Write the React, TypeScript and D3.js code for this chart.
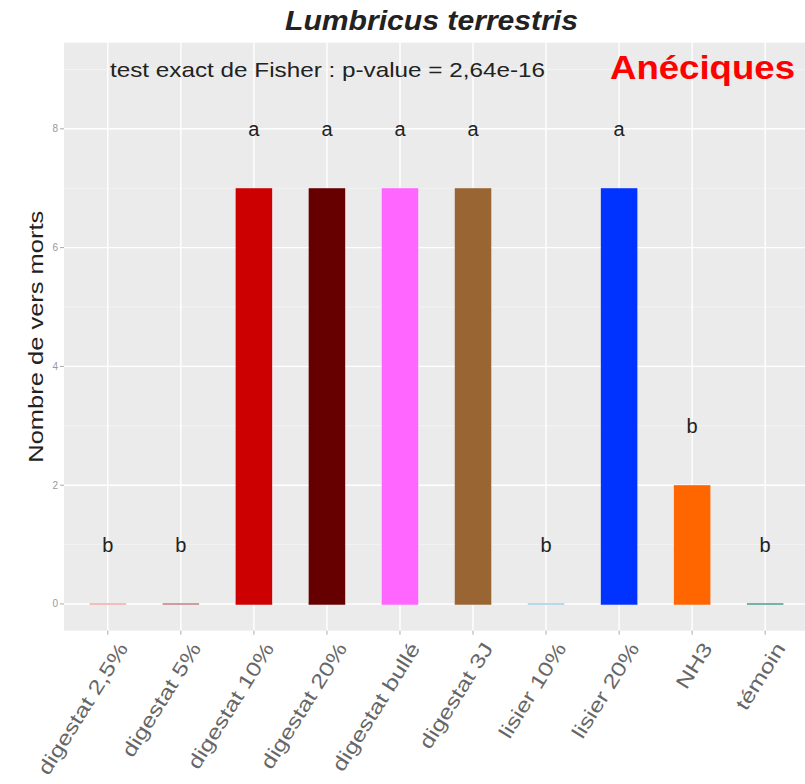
import React from "react";
import * as d3 from "d3";

const categories = ["digestat 2,5%", "digestat 5%", "digestat 10%", "digestat 20%", "digestat bullé", "digestat 3J", "lisier 10%", "lisier 20%", "NH3", "témoin"];
const values = [0, 0, 7, 7, 7, 7, 0, 7, 2, 0];
const letters = ["b", "b", "a", "a", "a", "a", "b", "a", "b", "b"];
const colors = ["#F2A8A8", "#C07C80", "#CC0000", "#660000", "#FF66FF", "#996633", "#9FCFE0", "#0033FF", "#FF6600", "#4A9A8A"];
const yTicks = [0, 2, 4, 6, 8];
const yMinor = [1, 3, 5, 7, 9];

const W = 805, H = 784;
const panel = { left: 64, right: 809, top: 42.7, bottom: 630.7 };

export default function App() {
  const x = d3.scaleBand<string>().domain(categories).range([panel.left, panel.right]).paddingInner(0.5).paddingOuter(0.35);
  const bw = x.bandwidth();
  const y = d3.scaleLinear().domain([-0.45, 9.45]).range([panel.bottom, panel.top]);
  const font = "'Liberation Sans', Arial, sans-serif";
  return (
    <div style={{ position: "absolute", left: 0, top: 0 }}>
      <svg width={W} height={H} style={{ display: "block", background: "#fff" }} fontFamily={font}>
        <rect x={panel.left} y={panel.top} width={panel.right - panel.left} height={panel.bottom - panel.top} fill="#EBEBEB" />
        {yMinor.map((t) => (
          <line key={"m" + t} x1={panel.left} x2={panel.right} y1={y(t)} y2={y(t)} stroke="#F5F5F5" strokeWidth={0.8} />
        ))}
        {yTicks.map((t) => (
          <line key={"g" + t} x1={panel.left} x2={panel.right} y1={y(t)} y2={y(t)} stroke="#FFFFFF" strokeWidth={1.4} />
        ))}
        {categories.map((c) => (
          <line key={"v" + c} x1={x(c)! + bw / 2} x2={x(c)! + bw / 2} y1={panel.top} y2={panel.bottom} stroke="#FFFFFF" strokeWidth={1.4} />
        ))}
        {categories.map((c, i) => (
          <g key={"b" + c}>
            {values[i] > 0 && (
              <rect x={x(c)!} y={y(values[i])} width={bw} height={y(0) - y(values[i])} fill={colors[i]} />
            )}
            <line x1={x(c)!} x2={x(c)! + bw} y1={y(0)} y2={y(0)} stroke={colors[i]} strokeWidth={1.5} />
          </g>
        ))}
        {categories.map((c, i) => (
          <text key={"l" + c} x={x(c)! + bw / 2} y={y(values[i] + 1)} dy="0.35em" textAnchor="middle" fontSize={20} fill="#222">
            {letters[i]}
          </text>
        ))}
        <text x={110} y={y(9)} dy="0.36em" fontSize={21} fill="#222" textLength={435} lengthAdjust="spacingAndGlyphs">test exact de Fisher : p-value = 2,64e-16</text>
        <text x={610} y={y(9.05)} dy="0.36em" fontSize={34} fontWeight="bold" fill="#FF0000" textLength={185} lengthAdjust="spacingAndGlyphs">Anéciques</text>
        {yTicks.map((t) => (
          <g key={"yt" + t}>
            <line x1={panel.left - 4} x2={panel.left} y1={y(t)} y2={y(t)} stroke="#aaa" strokeWidth={1} />
            <text x={panel.left - 6} y={y(t)} dy="0.35em" textAnchor="end" fontSize={10} fill="#999">{t}</text>
          </g>
        ))}
        {categories.map((c) => (
          <g key={"xt" + c}>
            <line x1={x(c)! + bw / 2} x2={x(c)! + bw / 2} y1={panel.bottom} y2={panel.bottom + 4} stroke="#aaa" strokeWidth={1} />
            <text transform={`translate(${x(c)! + bw / 2 + 9},${panel.bottom + 10}) rotate(-58) scale(1.25,1)`} textAnchor="end" dy="0.7em" fontSize={20} fill="#666">
              {c}
            </text>
          </g>
        ))}
        <text transform={`translate(35,${(panel.top + panel.bottom) / 2}) rotate(-90)`} x={-126} dy="0.36em" fontSize={21} fill="#222" textLength={252} lengthAdjust="spacingAndGlyphs">
          Nombre de vers morts
        </text>
        <text x={285} y={20} dy="0.36em" fontSize={27} fontWeight="bold" fontStyle="italic" fill="#222" textLength={293} lengthAdjust="spacingAndGlyphs">
          Lumbricus terrestris
        </text>
      </svg>
    </div>
  );
}
